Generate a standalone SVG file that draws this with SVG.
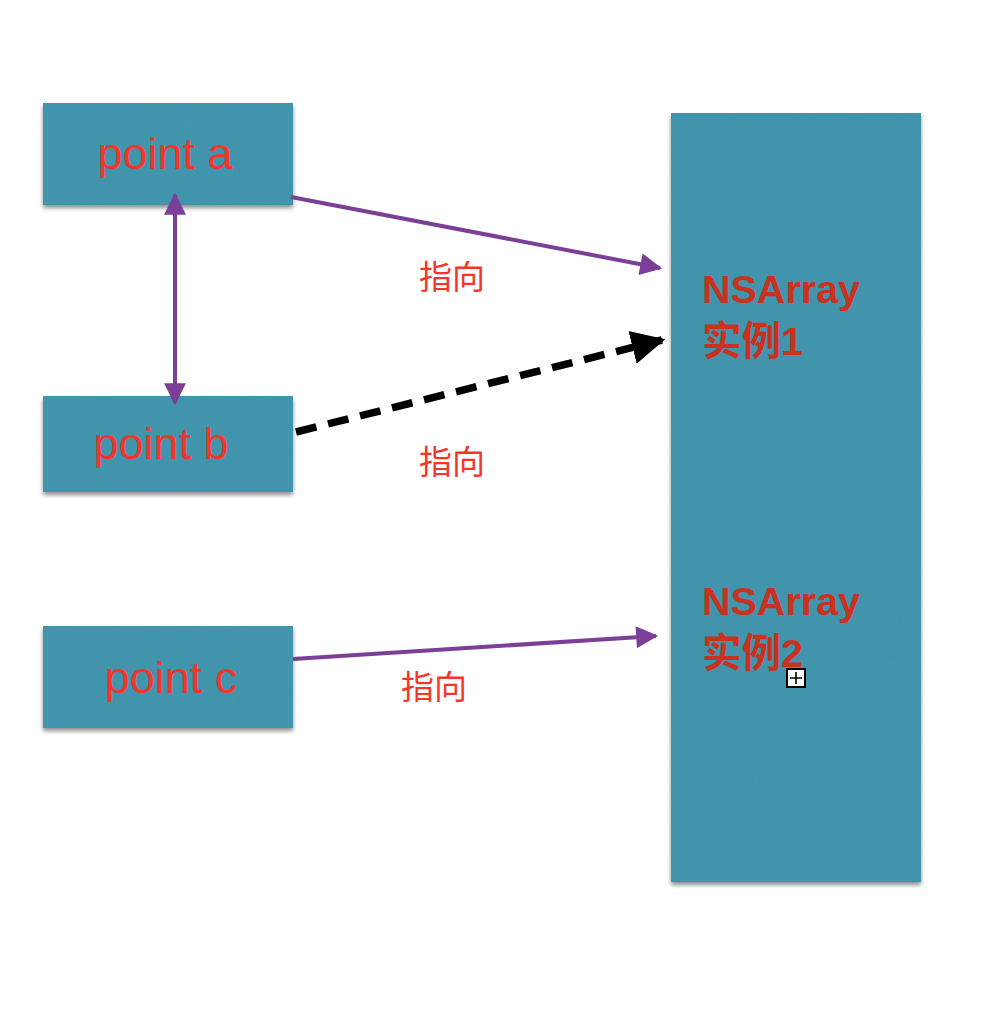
<svg xmlns="http://www.w3.org/2000/svg" width="1008" height="1032" viewBox="0 0 1008 1032">
<style>
.box{fill:#3e93ab;filter:url(#tex)}
.pt{font-family:"Liberation Sans",Arial,sans-serif;font-size:45px;fill:#f5352a;text-anchor:middle}
.arr{font-family:"Liberation Sans","Noto Sans CJK SC",sans-serif;font-size:39.5px;font-weight:bold;fill:#c8321e}
.lbl{font-family:"Noto Sans CJK SC",sans-serif;font-size:33px;fill:#f5352a}
.pl{stroke:#7b3f98;stroke-width:4;fill:none}
</style>
<defs>
<filter id="tex" x="-5%" y="-5%" width="115%" height="115%">
<feTurbulence type="fractalNoise" baseFrequency="0.9" numOctaves="2" seed="3" result="n"/>
<feColorMatrix in="n" type="matrix" values="0 0 0 0 0.1  0 0 0 0 0.35  0 0 0 0 0.45  0 0 0 0.35 0" result="na"/>
<feComposite in="na" in2="SourceGraphic" operator="in" result="nc"/>
<feMerge result="t"><feMergeNode in="SourceGraphic"/><feMergeNode in="nc"/></feMerge>
<feGaussianBlur in="SourceAlpha" stdDeviation="2" result="b"/>
<feOffset in="b" dx="0" dy="3" result="bo"/>
<feComponentTransfer in="bo" result="sh"><feFuncA type="linear" slope="0.45"/></feComponentTransfer>
<feMerge><feMergeNode in="sh"/><feMergeNode in="t"/></feMerge>
</filter>
<marker id="pa" viewBox="0 0 10 10" refX="9" refY="5" markerWidth="6.5" markerHeight="5.5" markerUnits="strokeWidth" orient="auto-start-reverse">
<path d="M0,0 L10,5 L0,10 z" fill="#7b3f98"/>
</marker>
<marker id="ba" viewBox="0 0 10 10" refX="9" refY="5" markerWidth="4.5" markerHeight="4.8" markerUnits="strokeWidth" orient="auto">
<path d="M0,0 L10,5 L0,10 z" fill="#000"/>
</marker>
</defs>
<rect width="1008" height="1032" fill="#fff"/>
<g id="array">
<rect class="box" x="671" y="113" width="250" height="769"/>
<text class="arr" x="702" y="303">NSArray</text>
<text class="arr" x="702" y="355">实例1</text>
<text class="arr" x="702" y="615">NSArray</text>
<text class="arr" x="702" y="667">实例2</text>
<g id="icon"><rect x="787" y="669" width="18" height="18" fill="#fff" stroke="#000" stroke-width="2"/><path d="M790,678 H802 M796,672 V684" stroke="#000" stroke-width="1.6"/></g>
</g>
<g id="pointA"><rect class="box" x="43" y="103" width="250" height="102"/><text class="pt" x="165" y="169">point a</text></g>
<g id="pointB"><rect class="box" x="43" y="396" width="250" height="96"/><text class="pt" x="161" y="459">point b</text></g>
<g id="pointC"><rect class="box" x="43" y="626" width="250" height="102"/><text class="pt" x="171" y="693">point c</text></g>
<g id="connectors">
<line class="pl" x1="291" y1="197" x2="660" y2="268" marker-end="url(#pa)"/>
<line class="pl" x1="175" y1="195" x2="175" y2="403" marker-start="url(#pa)" marker-end="url(#pa)"/>
<line x1="296" y1="432" x2="662" y2="340" stroke="#000" stroke-width="7.5" stroke-dasharray="21 12" marker-end="url(#ba)"/>
<line class="pl" x1="293" y1="659" x2="656" y2="636" marker-end="url(#pa)"/>
<text class="lbl" x="419" y="289">指向</text>
<text class="lbl" x="419" y="474">指向</text>
<text class="lbl" x="401" y="699">指向</text>
</g>
</svg>
